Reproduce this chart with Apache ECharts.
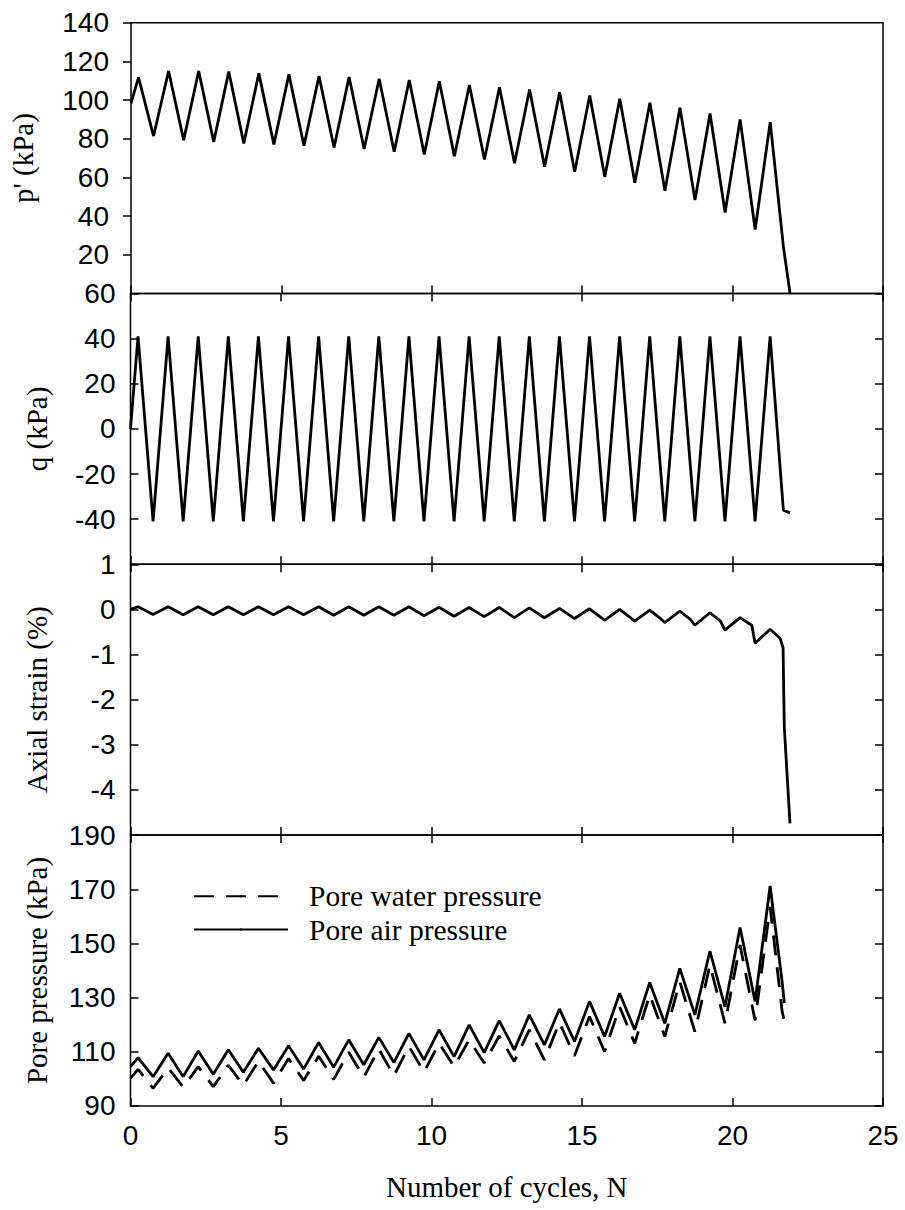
<!DOCTYPE html>
<html>
<head>
<meta charset="utf-8">
<script src="https://cdn.jsdelivr.net/npm/echarts@6/dist/echarts.min.js"></script>
<style>
html,body{margin:0;padding:0;background:#fff;}
#chart{width:905px;height:1210px;}
</style>
</head>
<body>
<div id="chart"></div>
<script>
// ---------------- data ----------------
const xTicks = [0, 5, 10, 15, 20, 25];

// p' (kPa) vs N
const pX = [0,0.25,0.75,1.25,1.75,2.25,2.75,3.25,3.75,4.25,4.75,5.25,5.75,6.25,6.75,7.25,7.75,8.25,8.75,9.25,9.75,10.25,10.75,11.25,11.75,12.25,12.75,13.25,13.75,14.25,14.75,15.25,15.75,16.25,16.75,17.25,17.75,18.25,18.75,19.25,19.75,20.25,20.75,21.25,21.69,21.91];
const pVals = [98.3,111.7,81.4,115.0,79.3,115.0,78.4,114.7,77.6,113.8,77.1,113.3,76.4,112.4,75.5,111.9,74.7,111.0,73.3,110.4,71.9,109.7,71.0,107.8,69.3,106.6,67.3,105.5,65.5,104.1,62.9,102.4,60.3,100.7,57.2,98.6,53.1,96.0,48.3,93.1,41.9,90.0,33.1,88.6,24.1,0];

// q (kPa) vs N
const qX = [0,0.25,0.75,1.25,1.75,2.25,2.75,3.25,3.75,4.25,4.75,5.25,5.75,6.25,6.75,7.25,7.75,8.25,8.75,9.25,9.75,10.25,10.75,11.25,11.75,12.25,12.75,13.25,13.75,14.25,14.75,15.25,15.75,16.25,16.75,17.25,17.75,18.25,18.75,19.25,19.75,20.25,20.75,21.25,21.69,21.91];
const qVals = [0,41,-41,41,-41,41,-41,41,-41,41,-41,41,-41,41,-41,41,-41,41,-41,41,-41,41,-41,41,-41,41,-41,41,-41,41,-41,41,-41,41,-41,41,-41,41,-41,41,-41,41,-41,41,-36,-37.2];

// Axial strain (%) vs N
const strainX = [0,0.25,0.75,1.25,1.75,2.25,2.75,3.25,3.75,4.25,4.75,5.25,5.75,6.25,6.75,7.25,7.75,8.25,8.75,9.25,9.75,10.25,10.75,11.25,11.75,12.25,12.75,13.25,13.75,14.25,14.68,14.75,15.25,15.66,15.75,16.25,16.64,16.75,17.25,17.62,17.75,18.25,18.6,18.75,19.25,19.6,19.75,20.25,20.64,20.75,21.25,21.58,21.68,21.72,21.91];
const strainVals = [0,0.06,-0.11,0.06,-0.12,0.06,-0.12,0.06,-0.12,0.06,-0.12,0.06,-0.12,0.06,-0.13,0.06,-0.13,0.06,-0.13,0.06,-0.14,0.05,-0.15,0.044,-0.16,0.044,-0.18,0.036,-0.185,0.022,-0.17,-0.2,0.014,-0.19,-0.24,0.0,-0.2,-0.26,-0.015,-0.21,-0.29,-0.038,-0.22,-0.35,-0.074,-0.26,-0.46,-0.18,-0.35,-0.75,-0.44,-0.64,-0.85,-2.6,-4.74];

// Pore pressures (kPa) vs N
const poreX = [0,0.25,0.75,1.25,1.75,2.25,2.75,3.25,3.75,4.25,4.75,5.25,5.75,6.25,6.75,7.25,7.75,8.25,8.75,9.25,9.75,10.25,10.75,11.25,11.75,12.25,12.75,13.25,13.75,14.25,14.75,15.25,15.75,16.25,16.75,17.25,17.75,18.25,18.75,19.25,19.75,20.25,20.75,21.25,21.65,21.72];
const waterVals = [100.2,103.5,96.5,104.0,96.9,104.5,97.1,105.0,97.6,106.5,98.4,107.5,99.4,108.3,99.8,109.8,100.6,111.0,101.1,112.0,102.5,113.1,104.5,114.4,105.8,115.8,106.4,118.1,107.0,120.8,108.5,123.0,110.0,126.6,113.1,131.0,115.6,135.8,117.4,142.0,120.5,149.4,121.5,163.5,124.8,121.5];
const airVals = [104.5,107.8,100.8,109.4,100.8,110.3,101.7,110.7,102.4,111.3,103.3,112.2,103.6,113.4,104.3,114.4,105.2,115.3,106.0,116.8,107.0,118.1,108.2,119.9,109.7,121.5,110.7,123.6,112.5,125.8,113.8,128.6,115.6,131.6,118.1,135.6,120.5,140.8,123.6,147.2,126.6,155.9,128.6,171.2,135.8,128.0];

// axis texts
const yNames = ["p' (kPa)", 'q (kPa)', 'Axial strain (%)', 'Pore pressure (kPa)'];
const xName = 'Number of cycles, N';
const seriesNames = ['Pore water pressure', 'Pore air pressure'];
const yRanges = [[0,140,20],[-60,60,20],[-5,1,1],[90,190,20]];

// ---------------- layout & style ----------------
const SANS = "'Liberation Sans', Arial, Helvetica, sans-serif";
const SERIF = "'Liberation Serif', 'Times New Roman', serif";
const tops = [22.7, 293.5, 564.3, 835.1];
const PH = 270.8;
const nameGaps = [94, 79, 79, 79];
const labelMargins = [22, 15, 15, 15];

const pair = (xs, ys) => xs.map((x, i) => [x, ys[i]]);

const grids = tops.map(t => ({
  left: 130.5, right: 22, top: t, height: PH,
  show: true, borderColor: '#000', borderWidth: 1.5, backgroundColor: 'rgba(0,0,0,0)'
}));

const tickStyle = {color: '#000', width: 1.5};
const noLine = {show: false, onZero: false};
const xAxes = [];
const yAxes = [];
for (let i = 0; i < 4; i++) {
  xAxes.push({
    gridIndex: i, type: 'value', position: 'bottom',
    min: xTicks[0], max: xTicks[xTicks.length - 1], interval: xTicks[1] - xTicks[0],
    axisLine: noLine,
    axisTick: {show: true, inside: true, length: 8, lineStyle: tickStyle},
    splitLine: {show: false},
    axisLabel: {show: i === 3, color: '#000', fontFamily: SANS, fontSize: 28, margin: 16},
    name: i === 3 ? xName : '',
    nameLocation: 'middle', nameGap: 67,
    nameTextStyle: {color: '#000', fontFamily: SERIF, fontSize: 29}
  });
  if (i > 0) {
    xAxes.push({
      gridIndex: i, type: 'value', position: 'top',
      min: xTicks[0], max: xTicks[xTicks.length - 1], interval: xTicks[1] - xTicks[0],
      axisLine: noLine,
      axisTick: {show: true, inside: true, length: 8, lineStyle: tickStyle},
      splitLine: {show: false}, axisLabel: {show: false}
    });
  }
}
for (let i = 0; i < 4; i++) {
  const r = yRanges[i];
  yAxes.push({
    gridIndex: i, type: 'value', position: 'left',
    min: r[0], max: r[1], interval: r[2],
    axisLine: noLine,
    axisTick: {show: true, inside: i > 0, length: 8, lineStyle: tickStyle},
    splitLine: {show: false},
    axisLabel: {color: '#000', fontFamily: SANS, fontSize: 28, margin: labelMargins[i], showMinLabel: i === 3, showMaxLabel: true},
    name: yNames[i], nameLocation: 'middle', nameGap: nameGaps[i], nameRotate: 90,
    nameTextStyle: {color: '#000', fontFamily: SERIF, fontSize: 29}
  });
  if (i > 0) {
    yAxes.push({
      gridIndex: i, type: 'value', position: 'right',
      min: r[0], max: r[1], interval: r[2],
      axisLine: noLine,
      axisTick: {show: true, inside: true, length: 8, lineStyle: tickStyle},
      splitLine: {show: false}, axisLabel: {show: false}
    });
  }
}
// indices of the bottom x axes and left y axes per grid
const xIdx = [0, 1, 3, 5];
const yIdx = [0, 1, 3, 5];

const lineBase = (w) => ({color: '#000', width: w});
const series = [
  {type: 'line', name: 'p', xAxisIndex: xIdx[0], yAxisIndex: yIdx[0], data: pair(pX, pVals), symbol: 'none', lineStyle: lineBase(2.8), itemStyle:{color:'#000'}},
  {type: 'line', name: 'q', xAxisIndex: xIdx[1], yAxisIndex: yIdx[1], data: pair(qX, qVals), symbol: 'none', lineStyle: lineBase(2.8), itemStyle:{color:'#000'}},
  {type: 'line', name: 'strain', xAxisIndex: xIdx[2], yAxisIndex: yIdx[2], data: pair(strainX, strainVals), symbol: 'none', lineStyle: lineBase(2.8), itemStyle:{color:'#000'}},
  {type: 'line', name: seriesNames[0], xAxisIndex: xIdx[3], yAxisIndex: yIdx[3], data: pair(poreX, waterVals), symbol: 'none', lineStyle: {color: '#000', width: 2.8, type: [20, 12]}, itemStyle:{color:'#000'}},
  {type: 'line', name: seriesNames[1], xAxisIndex: xIdx[3], yAxisIndex: yIdx[3], data: pair(poreX, airVals), symbol: 'none', lineStyle: lineBase(2.8), itemStyle:{color:'#000'}}
];

const chart = echarts.init(document.getElementById('chart'), null, {renderer: 'svg'});
chart.setOption({
  animation: false,
  backgroundColor: '#fff',
  grid: grids,
  xAxis: xAxes,
  yAxis: yAxes,
  legend: {
    orient: 'vertical', left: 188, top: 876.2, padding: 5,
    itemGap: 3.3, itemWidth: 94, itemHeight: 3,
    selectedMode: false,
    data: seriesNames,
    textStyle: {color: '#000', fontFamily: SERIF, fontSize: 29.5, lineHeight: 30, padding: [0, 0, 0, 16]}
  },
  series: series
});
</script>
</body>
</html>
